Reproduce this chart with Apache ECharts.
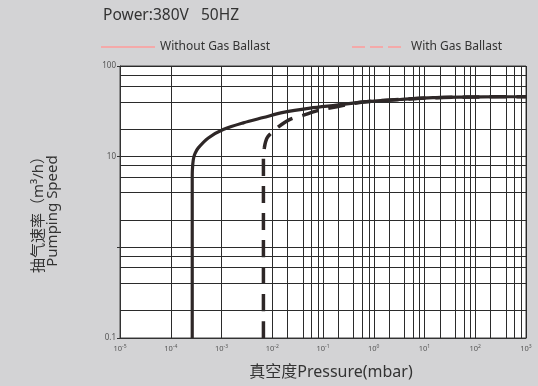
<!DOCTYPE html>
<html>
<head>
<meta charset="utf-8">
<style>
  html, body { margin: 0; padding: 0; background: #d3d3d5; }
  #chart { width: 538px; height: 386px; }
</style>
<script src="https://cdn.jsdelivr.net/npm/echarts@6/dist/echarts.min.js"></script>
</head>
<body>
<div id="chart"></div>
<script>
// 抽速曲线 (压力 mbar, 抽速 m3/h)
var withoutP = [2.65e-4, 2.65e-4, 2.67e-4, 2.78e-4, 3.0e-4, 3.49e-4, 5.5e-4, 1.08e-3, 2.69e-3, 6.67e-3, 0.0165, 0.0555, 0.186, 0.726, 3.29, 14.7, 67.9, 307, 1000];
var withoutS = [0.1, 5.57, 7.18, 9.27, 10.8, 12.5, 16.1, 19.9, 23.6, 27.0, 30.8, 34.3, 37.0, 40.4, 42.7, 44.7, 45.4, 45.8, 45.8];
var withP = [6.7e-3, 6.7e-3, 7.0e-3, 7.4e-3, 8.2e-3, 0.0125, 0.0224, 0.0404, 0.075, 0.186, 0.4, 0.726, 3.29, 14.7, 67.9, 307, 1000];
var withS = [0.1, 10.5, 12.6, 14.6, 16.6, 20.8, 25.8, 28.5, 32.0, 35.6, 38.6, 40.4, 42.7, 44.7, 45.4, 45.8, 45.8];

var xDecades = [-5, -4, -3, -2, -1, 0, 1, 2];
var yDecades = [-1, 0, 1];
var minorSteps = [2, 4, 6, 8];
var yLabels = { '0.1': '0.1', '10': '10', '100': '100' };

function pairs(xs, ys) {
    var out = [];
    for (var i = 0; i < xs.length; i++) out.push([xs[i], ys[i]]);
    return out;
}

// 细分网格线 2,4,6,8
var gridLines = [];
xDecades.forEach(function (d) {
    minorSteps.forEach(function (m) { gridLines.push({ xAxis: m * Math.pow(10, d) }); });
});
yDecades.forEach(function (d) {
    minorSteps.forEach(function (m) { gridLines.push({ yAxis: m * Math.pow(10, d) }); });
});

var lineColor = '#2e2727';
var legendPink = '#f4a9a9';
var font = '"Noto Sans", "Noto Sans CJK SC", sans-serif';
var hiddenDot = { color: 'rgba(0,0,0,0)', borderWidth: 0, opacity: 0 };

var option = {
    backgroundColor: '#d3d3d5',
    animation: false,
    title: {
        text: 'Power:380V   50HZ',
        left: 98, top: 3,
        textStyle: { fontSize: 15.5, fontWeight: 'normal', color: '#333', fontFamily: font }
    },
    legend: [{
        left: 95, top: 36,
        itemWidth: 54, itemHeight: 14,
        textStyle: { fontSize: 12, color: '#333', fontFamily: font },
        data: [{ name: 'Without Gas Ballast', itemStyle: hiddenDot, lineStyle: { color: legendPink, width: 2, type: 'solid' } }]
    }, {
        left: 346, top: 36,
        itemWidth: 54, itemHeight: 14,
        textStyle: { fontSize: 12, color: '#333', fontFamily: font },
        data: [{ name: 'With Gas Ballast', itemStyle: hiddenDot, lineStyle: { color: legendPink, width: 2, type: [13, 5] } }]
    }],
    grid: {
        left: 120, right: 12, top: 66, bottom: 48,
        show: true, backgroundColor: '#fff', borderColor: '#444', borderWidth: 1
    },
    xAxis: {
        type: 'log', logBase: 10, min: 1e-5, max: 1e3, interval: 1, splitNumber: 8,
        axisLine: { lineStyle: { color: '#333' } },
        axisTick: { show: false },
        splitLine: { show: true, lineStyle: { color: '#2b2b2b', width: 1 } },
        axisLabel: {
            margin: 6,
            color: '#555', fontSize: 7.5, fontFamily: font,
            formatter: function (v) {
                return '10{s|' + Math.round(Math.log10(v)) + '}';
            },
            rich: { s: { fontSize: 5, color: '#555', verticalAlign: 'top', padding: [0, 0, 4, 0] } }
        }
    },
    yAxis: {
        type: 'log', logBase: 10, min: 0.1, max: 100, interval: 1, splitNumber: 3,
        axisLine: { show: true, lineStyle: { color: '#333' } },
        axisTick: { show: true, length: 3, lineStyle: { color: '#333' } },
        splitLine: { show: true, lineStyle: { color: '#2b2b2b', width: 1 } },
        axisLabel: {
            margin: 4, color: '#555', fontSize: 8, fontFamily: font,
            formatter: function (v) {
                var k = String(+v.toPrecision(3));
                return yLabels[k] || '';
            }
        }
    },
    graphic: [{
        type: 'text', x: 331, y: 372, silent: true,
        style: {
            text: '真空度Pressure(mbar)', fill: '#333',
            font: '16px "Noto Sans", "Noto Sans CJK SC", sans-serif',
            textAlign: 'center', textVerticalAlign: 'middle'
        }
    }, {
        type: 'text', x: 45.5, y: 211, rotation: Math.PI / 2, silent: true,
        style: {
            text: '抽气速率（m³/h）\nPumping Speed', fill: '#333',
            font: '15px "Noto Sans", "Noto Sans CJK SC", sans-serif', lineHeight: 14,
            textAlign: 'center', textVerticalAlign: 'middle'
        }
    }],
    series: [{
        name: 'grid', type: 'line', data: [], z: 1, silent: true,
        markLine: {
            silent: true, symbol: 'none', label: { show: false },
            lineStyle: { color: '#2b2b2b', width: 1, type: 'solid' },
            emphasis: { disabled: true },
            data: gridLines
        }
    }, {
        name: 'With Gas Ballast', type: 'line', z: 3, symbol: 'none', smooth: 0.3,
        lineStyle: { color: lineColor, width: 3.5, type: [17, 10] },
        itemStyle: { color: lineColor },
        data: pairs(withP, withS)
    }, {
        name: 'Without Gas Ballast', type: 'line', z: 4, symbol: 'none', smooth: 0.3,
        lineStyle: { color: lineColor, width: 3.2 },
        itemStyle: { color: lineColor },
        data: pairs(withoutP, withoutS)
    }]
};

var chart = echarts.init(document.getElementById('chart'));
chart.setOption(option);
</script>
</body>
</html>
